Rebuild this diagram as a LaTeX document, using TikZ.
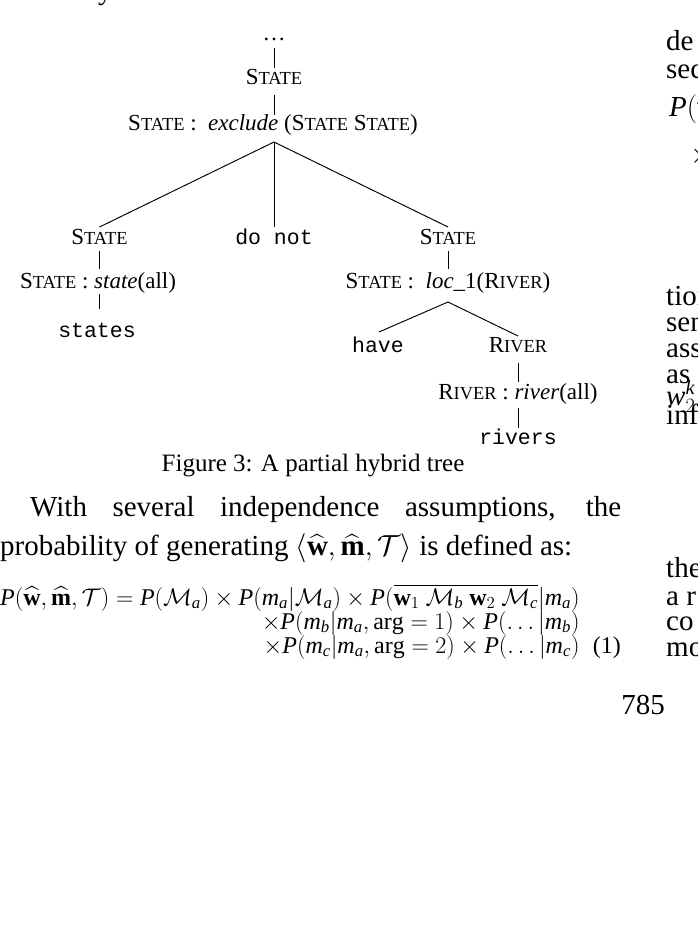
\RequirePackage{fix-cm}
\documentclass[tikz,border=0pt]{standalone}
\usepackage{amsmath}
\usepackage{fontspec}
\setmainfont{Liberation Serif}
\setmonofont{Liberation Mono}
\usetikzlibrary{calc}
\newcommand\mi[1]{\mathit{#1}}
\newcommand\SCap[2]{#1{\fontsize{18.4}{20}\selectfont #2}}
\begin{document}
\begin{tikzpicture}[x=1pt,y=-1pt,
  lbl/.style={inner sep=0pt, anchor=base},
  trf/.style={lbl, font=\fontsize{23}{26}\selectfont},
  ttf/.style={lbl, font=\ttfamily\fontsize{21.5}{26}\selectfont},
  bodyf/.style={inner sep=0pt, anchor=base west, font=\fontsize{29}{33}\selectfont},
  capf/.style={lbl, font=\fontsize{25}{30}\selectfont},
  eqf/.style={inner sep=0pt, font=\fontsize{24}{28}\selectfont},
  tl/.style={line width=0.95pt}]
\fill[white] (0,0) rectangle (697,930);
\useasboundingbox (0,0) rectangle (697,930);

% fragment of the line above
\node[bodyf] (ytail) at (98,-0.5) {y};

% ---- tree ----
\node[trf] (n0) at (274,40) {\ldots};
\node[trf] (n1) at (274,84) {\SCap{S}{TATE}};
\node[trf] (n2) at (273,130) {\SCap{S}{TATE} :\enspace\textit{exclude} (\SCap{S}{TATE} \SCap{S}{TATE})};
\node[trf] (L1) at (99.5,244) {\SCap{S}{TATE}};
\node[ttf] (M)  at (274,244) {do not};
\node[trf] (R1) at (448,244) {\SCap{S}{TATE}};
\node[trf] (L2) at (98,288) {\SCap{S}{TATE} : \textit{state}(all)};
\node[ttf] (L3) at (97,337) {states};
\node[trf] (R2) at (448,288) {\SCap{S}{TATE} :\enspace\textit{loc}\_1(\SCap{R}{IVER})};
\node[ttf] (R3a) at (378,352) {have};
\node[trf] (R3b) at (518,352) {\SCap{R}{IVER}};
\node[trf] (R4) at (518,399) {\SCap{R}{IVER} : \textit{river}(all)};
\node[ttf] (R5) at (518,444) {rivers};

\coordinate (s0) at ($(n2.base)+(1,12)$);
\coordinate (s1) at ($(R2.base)+(0,14)$);
\draw[tl] ($(n0.base)+(0,8)$) -- ($(n1.base)+(0,-16)$);
\draw[tl] ($(n1.base)+(0,11)$) -- ($(n2.base)+(1,-15)$);
\draw[tl] (s0) -- ($(L1.base)+(0,-17)$);
\draw[tl] (s0) -- ($(M.base)+(0,-17)$);
\draw[tl] (s0) -- ($(R1.base)+(0,-17)$);
\draw[tl] ($(L1.base)+(0,7)$) -- ($(L1.base |- L2.base)+(0,-19)$);
\draw[tl] ($(L1.base |- L2.base)+(0,6)$) -- ($(L1.base |- L3.base)+(0,-28)$);
\draw[tl] ($(R1.base)+(0,7)$) -- ($(R2.base)+(0,-19)$);
\draw[tl] (s1) -- ($(R3a.base)+(1,-20)$);
\draw[tl] (s1) -- ($(R3b.base)+(0,-16)$);
\draw[tl] ($(R3b.base)+(0,11)$) -- ($(R4.base)+(0,-17)$);
\draw[tl] ($(R4.base)+(0,9)$) -- ($(R5.base)+(0,-16)$);

\node[capf] (cap) at (313,471) {Figure 3: A partial hybrid tree};

% ---- left column text ----
\node[bodyf] (t1) at (30,516) {\makebox[591pt][s]{With several independence assumptions, the}};
\node[bodyf] (t2) at (0,555) {probability of generating $\langle\widehat{\mathbf{w}},\widehat{\mathbf{m}},\mathcal{T}\rangle$ is defined as:};

\node[eqf, anchor=base west] (e1) at (0,605) {$\mi{P}(\widehat{\mathbf{w}},\widehat{\mathbf{m}},\mathcal{T}) = \mi{P}(\mathcal{M}_{\mi{a}})\times \mi{P}(\mi{m}_{\mi{a}}|\mathcal{M}_{\mi{a}})\times \mi{P}(\overline{\mathbf{w}_1\ \mathcal{M}_{\mi{b}}\ \mathbf{w}_2\ \mathcal{M}_{\mi{c}}}|\mi{m}_{\mi{a}})$};
\node[eqf, anchor=base east] (e2) at ($(e1.base east)+(0,24)$) {$\times\mi{P}(\mi{m}_{\mi{b}}|\mi{m}_{\mi{a}},\mathrm{arg}=1)\times \mi{P}(\ldots|\mi{m}_{\mi{b}})$};
\node[eqf, anchor=base east] (e3) at ($(e1.base east)+(0,48)$) {$\times\mi{P}(\mi{m}_{\mi{c}}|\mi{m}_{\mi{a}},\mathrm{arg}=2)\times \mi{P}(\ldots|\mi{m}_{\mi{c}})$};
\node[eqf, anchor=base east] (enum) at (621,653) {(1)};

\node[bodyf, anchor=base] (pg) at (643,714) {785};

% ---- right column fragments ----
\node[bodyf] (r1) at (666,50) {de};
\node[bodyf] (r2) at (666,78) {sec};
\node[bodyf] (r3) at (669,116) {$\mi{P}(\widehat{\mathbf{w}}$};
\node[bodyf] (r4) at (690,163) {$\times$};
\node[bodyf] (r5) at (666,305) {tion};
\node[bodyf] (r6) at (666,331) {sen};
\node[bodyf] (r7) at (666,357) {ass};
\node[bodyf] (r8) at (666,383) {as};
\node[bodyf] (r9) at (666,405) {$\mi{w}_2^{\mi{k}}$};
\node[bodyf] (r10) at (666,424) {inf};
\node[bodyf] (r11) at (666,577) {the};
\node[bodyf] (r12) at (666,605) {a r};
\node[bodyf] (r13) at (666,630) {co};
\node[bodyf] (r14) at (666,656) {mo};
\end{tikzpicture}
\end{document}
